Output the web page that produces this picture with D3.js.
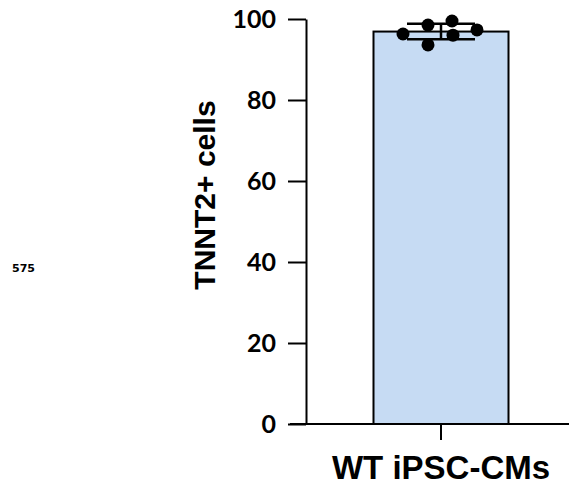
<!DOCTYPE html>
<html>
<head>
<meta charset="utf-8">
<script src="https://cdn.jsdelivr.net/npm/d3@7"></script>
<style>
  body { margin: 0; background: #fff; }
  svg { display: block; }
</style>
</head>
<body>
<div id="chart"></div>
<script>
// data
const groups = ["WT iPSC-CMs"];
const means = [96.9];
const sds = [1.9];
const points = [96.3, 98.5, 99.5, 96.0, 97.3, 93.6];
const jitter = [-38, -13, 11, 12, 36, -13]; // horizontal spread of the dots
const yTicks = [0, 20, 40, 60, 80, 100];

const width = 569, height = 487;
const m = {t: 19, l: 306, b: 63};

const svg = d3.select("#chart").append("svg")
    .attr("width", width).attr("height", height);

// y scale
const y = d3.scaleLinear().domain([0, 100]).range([height - m.b, m.t]);

// x scale, one band
const x = d3.scaleBand().domain(groups)
    .range([m.l, 576]).paddingInner(0.5).paddingOuter(0.25);

// bar
svg.selectAll(".bar").data(groups).enter().append("rect")
    .attr("class", "bar")
    .attr("x", d => x(d))
    .attr("y", (d, i) => y(means[i]))
    .attr("width", x.bandwidth())
    .attr("height", (d, i) => y(0) - y(means[i]))
    .attr("fill", "#c6dbf3")
    .attr("stroke", "#000")
    .attr("stroke-width", 2);

// y axis
const yAxis = svg.append("g")
    .attr("transform", "translate(" + m.l + ",0)")
    .call(d3.axisLeft(y).tickValues(yTicks).tickSize(18).tickSizeOuter(0).tickPadding(12));
yAxis.selectAll("line, path").attr("stroke", "#000").attr("stroke-width", 2);
yAxis.selectAll("text")
    .style("font-family", "Lato, 'Open Sans', sans-serif")
    .style("font-weight", 700)
    .style("font-size", "25px")
    .attr("fill", "#000");

// x axis
const xAxis = svg.append("g")
    .attr("transform", "translate(0," + y(0) + ")")
    .call(d3.axisBottom(x).tickSize(16).tickSizeOuter(0).tickPadding(16));
xAxis.select(".domain").attr("d", "M290,0H" + width);
xAxis.selectAll("line, path").attr("stroke", "#000").attr("stroke-width", 2);
xAxis.selectAll("text")
    .style("font-family", "'Liberation Sans', Arial, sans-serif")
    .style("font-weight", 700)
    .style("font-size", "33px")
    .attr("dy", "0.71em")
    .attr("fill", "#000");

// error bar (mean +/- sd)
const cx = x(groups[0]) + x.bandwidth() / 2;
const capW = 34;
const eb = svg.append("g").attr("stroke", "#000").attr("stroke-width", 2.5);
eb.append("line").attr("x1", cx).attr("x2", cx)
    .attr("y1", y(means[0] + sds[0])).attr("y2", y(means[0] - sds[0]));
[means[0] + sds[0], means[0] - sds[0]].forEach(v => {
    eb.append("line").attr("x1", cx - capW).attr("x2", cx + capW)
        .attr("y1", y(v)).attr("y2", y(v));
});

// individual dots
svg.selectAll(".dot").data(points).enter().append("circle")
    .attr("class", "dot")
    .attr("cx", (d, i) => cx + jitter[i])
    .attr("cy", d => y(d))
    .attr("r", 6.5)
    .attr("fill", "#000");

// y label
svg.append("text")
    .attr("transform", "translate(215,195) rotate(-90)")
    .attr("text-anchor", "middle")
    .style("font-family", "'Liberation Sans', Arial, sans-serif")
    .style("font-weight", 700)
    .style("font-size", "30px")
    .text("TNNT2+ cells");

// stray page number
svg.append("text")
    .attr("x", 12).attr("y", 272)
    .style("font-family", "'DejaVu Sans', sans-serif")
    .style("font-weight", 700)
    .style("font-size", "11px")
    .text("575");
</script>
</body>
</html>
